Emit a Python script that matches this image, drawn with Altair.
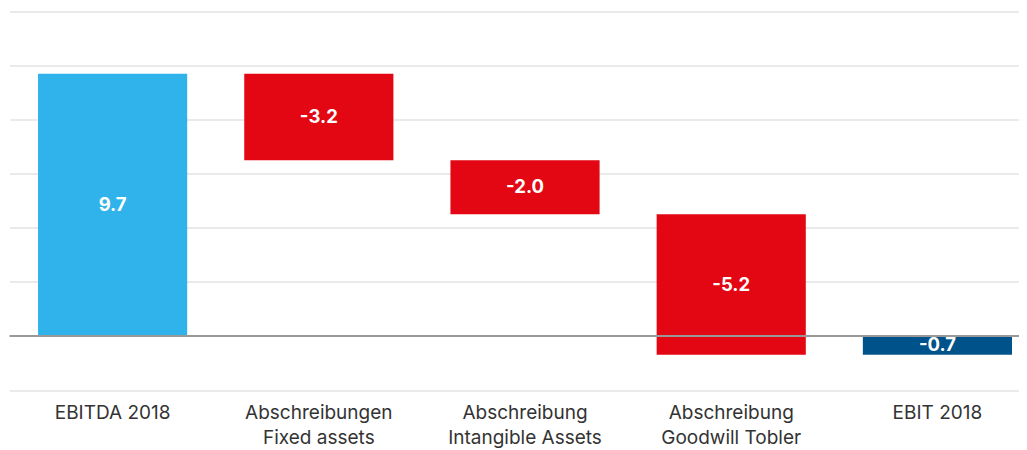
import altair as alt
import pandas as pd

categories = ["EBITDA 2018", "Abschreibungen|Fixed assets", "Abschreibung|Intangible Assets",
              "Abschreibung|Goodwill Tobler", "EBIT 2018"]
deltas = [9.7, -3.2, -2.0, -5.2, -0.7]
kinds = ["total", "delta", "delta", "delta", "result"]
labels = ["9.7", "-3.2", "-2.0", "-5.2", "-0.7"]

rows = []
running = 0.0
for c, d, k, l in zip(categories, deltas, kinds, labels):
    if k == "result":
        start, end = 0.0, d
    else:
        start, end = running, running + d
        running = end
    rows.append({"cat": c, "start": start, "end": end, "kind": k, "label": l,
                 "mid": (start + end) / 2})
df = pd.DataFrame(rows)

xenc = alt.X("cat:N", sort=categories, title=None,
             scale=alt.Scale(paddingInner=0.2767, paddingOuter=0.0862, align=0.803),
             axis=alt.Axis(labelExpr="split(datum.value, '|')", labelAngle=0,
                           labelFont="Inter", labelFontSize=19, labelColor="#333333",
                           labelLineHeight=25, labelPadding=22, ticks=False, domain=False,
                           grid=False, labelBaseline="middle"))
yscale = alt.Scale(domain=[-2, 12], nice=False, zero=False)

bars = alt.Chart(df).mark_bar().encode(
    x=xenc,
    y=alt.Y("start:Q", scale=yscale, title=None,
            axis=alt.Axis(values=[-2, 0, 2, 4, 6, 8, 10, 12], labels=False, ticks=False,
                          domain=False, gridColor="#e3e3e3", gridWidth=1.5)),
    y2="end:Q",
    color=alt.Color("kind:N", legend=None,
                    scale=alt.Scale(domain=["total", "delta", "result"],
                                    range=["#2fb3ea", "#e30613", "#00528a"])),
)

zero = alt.Chart(pd.DataFrame({"z": [0]})).mark_rule(color="#999999", strokeWidth=2).encode(
    y=alt.Y("z:Q", scale=yscale)
)

text = alt.Chart(df).mark_text(color="white", font="Inter", fontSize=18.5,
                               fontWeight="bold").encode(
    x=alt.X("cat:N", sort=categories),
    y=alt.Y("mid:Q", scale=yscale),
    text="label:N",
)

chart = alt.layer(bars, zero, text).properties(
    width=1009.5, height=378.5,
    autosize=alt.AutoSizeParams(type="none"),
    padding={"left": 1.5, "top": 3.5, "right": 0, "bottom": 60},
).configure_view(stroke=None)

chart.save("out.html", embed_options={"renderer": "svg", "actions": False})
